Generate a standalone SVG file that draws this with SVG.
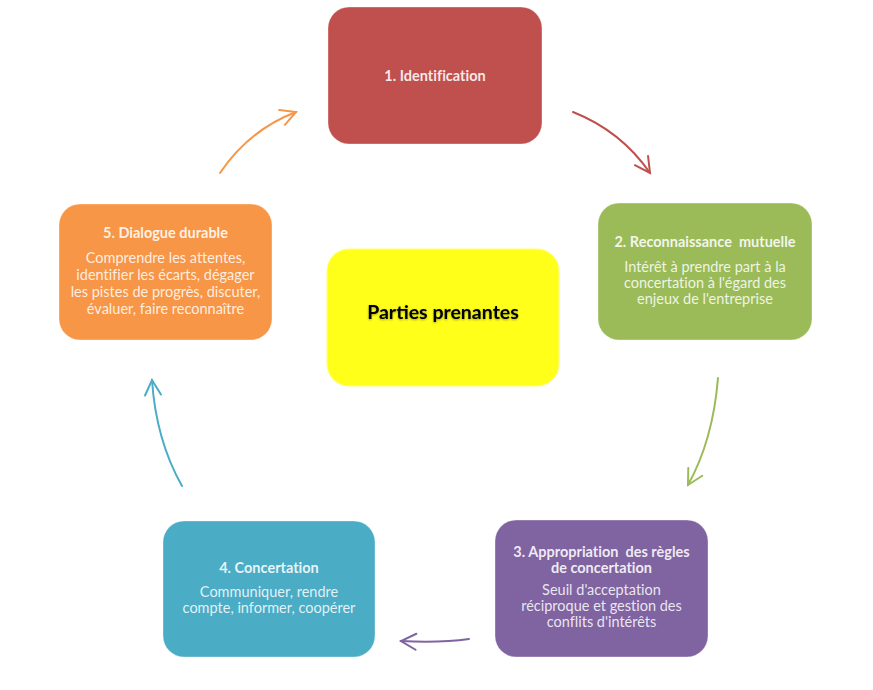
<svg xmlns="http://www.w3.org/2000/svg" width="873" height="690" viewBox="0 0 873 690">
<defs>
<style>
.t{font-family:Lato,"Liberation Sans",sans-serif;font-size:14.5px;font-weight:bold;fill:#fff;fill-opacity:0.88;text-anchor:middle;white-space:pre;font-variant-ligatures:none}
.b{font-family:Lato,"Liberation Sans",sans-serif;font-size:14.5px;fill:#fff;fill-opacity:0.85;text-anchor:middle;font-variant-ligatures:none}
.box{stroke:#fff;stroke-opacity:0.35;stroke-width:1}
.c{fill:none;stroke-width:2;stroke-linecap:round}
</style>
<marker id="mr" markerUnits="userSpaceOnUse" markerWidth="24" markerHeight="24" refX="0" refY="0" viewBox="-18 -12 24 24" orient="auto"><path d="M-15,-8 L0,0 L-15,8" fill="none" stroke="#C0504D" stroke-width="2" stroke-linecap="round"/></marker>
<marker id="mg" markerUnits="userSpaceOnUse" markerWidth="24" markerHeight="24" refX="0" refY="0" viewBox="-18 -12 24 24" orient="auto"><path d="M-15,-8 L0,0 L-15,8" fill="none" stroke="#9BBB59" stroke-width="2" stroke-linecap="round"/></marker>
<marker id="mp" markerUnits="userSpaceOnUse" markerWidth="24" markerHeight="24" refX="0" refY="0" viewBox="-18 -12 24 24" orient="auto"><path d="M-15,-8 L0,0 L-15,8" fill="none" stroke="#8064A2" stroke-width="2" stroke-linecap="round"/></marker>
<marker id="mb" markerUnits="userSpaceOnUse" markerWidth="24" markerHeight="24" refX="0" refY="0" viewBox="-18 -12 24 24" orient="auto"><path d="M-15,-8 L0,0 L-15,8" fill="none" stroke="#4BACC6" stroke-width="2" stroke-linecap="round"/></marker>
<marker id="mo" markerUnits="userSpaceOnUse" markerWidth="24" markerHeight="24" refX="0" refY="0" viewBox="-18 -12 24 24" orient="auto"><path d="M-15,-8 L0,0 L-15,8" fill="none" stroke="#F79646" stroke-width="2" stroke-linecap="round"/></marker>
<filter id="glow" x="-20%" y="-50%" width="140%" height="200%"><feDropShadow dx="0" dy="1" stdDeviation="1.2" flood-color="#000" flood-opacity="0.35"/></filter>
</defs>
<rect width="873" height="690" fill="#fff"/>
<g id="connectors">
<path class="c" d="M573,112 Q621,131 650,173" stroke="#C0504D" marker-end="url(#mr)"/>
<path class="c" d="M718,378 Q713,440 688,485" stroke="#9BBB59" marker-end="url(#mg)"/>
<path class="c" d="M469,639 Q440,643 401,641" stroke="#8064A2" marker-end="url(#mp)"/>
<path class="c" d="M182,486 Q156,440 152,380" stroke="#4BACC6" marker-end="url(#mb)"/>
<path class="c" d="M220,173 Q249,130 296,112" stroke="#F79646" marker-end="url(#mo)"/>
</g>
<g id="node1">
<rect class="box" x="328" y="7" width="214" height="137" rx="21" fill="#C0504D"/>
<text class="t" x="435" y="81">1. Identification</text>
</g>
<g id="node2">
<rect class="box" x="598" y="203" width="214" height="137" rx="21" fill="#9BBB59"/>
<text class="t" x="705" y="247">2. Reconnaissance  mutuelle</text>
<text class="b" x="705" y="272">Intérêt à prendre part à la</text>
<text class="b" x="705" y="288">concertation à l'égard des</text>
<text class="b" x="705" y="304">enjeux de l'entreprise</text>
</g>
<g id="node3">
<rect class="box" x="495" y="520" width="213" height="137" rx="21" fill="#8064A2"/>
<text class="t" x="601.5" y="557">3. Appropriation  des règles</text>
<text class="t" x="601.5" y="573">de concertation</text>
<text class="b" x="601.5" y="595">Seuil d'acceptation</text>
<text class="b" x="601.5" y="611">réciproque et gestion des</text>
<text class="b" x="601.5" y="627">conflits d'intérêts</text>
</g>
<g id="node4">
<rect class="box" x="163" y="521" width="212" height="136" rx="21" fill="#4BACC6"/>
<text class="t" x="269" y="573">4. Concertation</text>
<text class="b" x="269" y="597">Communiquer, rendre</text>
<text class="b" x="269" y="613">compte, informer, coopérer</text>
</g>
<g id="node5">
<rect class="box" x="59" y="204" width="213" height="136" rx="21" fill="#F79646"/>
<text class="t" x="165.5" y="238">5. Dialogue durable</text>
<text class="b" x="165.5" y="263">Comprendre les attentes,</text>
<text class="b" x="165.5" y="280">identifier les écarts, dégager</text>
<text class="b" x="165.5" y="297">les pistes de progrès, discuter,</text>
<text class="b" x="165.5" y="314">évaluer, faire reconnaître</text>
</g>
<g id="center">
<rect x="327" y="249" width="232" height="137" rx="22" fill="#FFFF1A" stroke="#FFFF80" stroke-width="1"/>
<text x="443" y="319" font-family="Lato,'Liberation Sans',sans-serif" font-size="19.5" font-weight="bold" fill="#000" text-anchor="middle" filter="url(#glow)">Parties prenantes</text>
</g>
</svg>
